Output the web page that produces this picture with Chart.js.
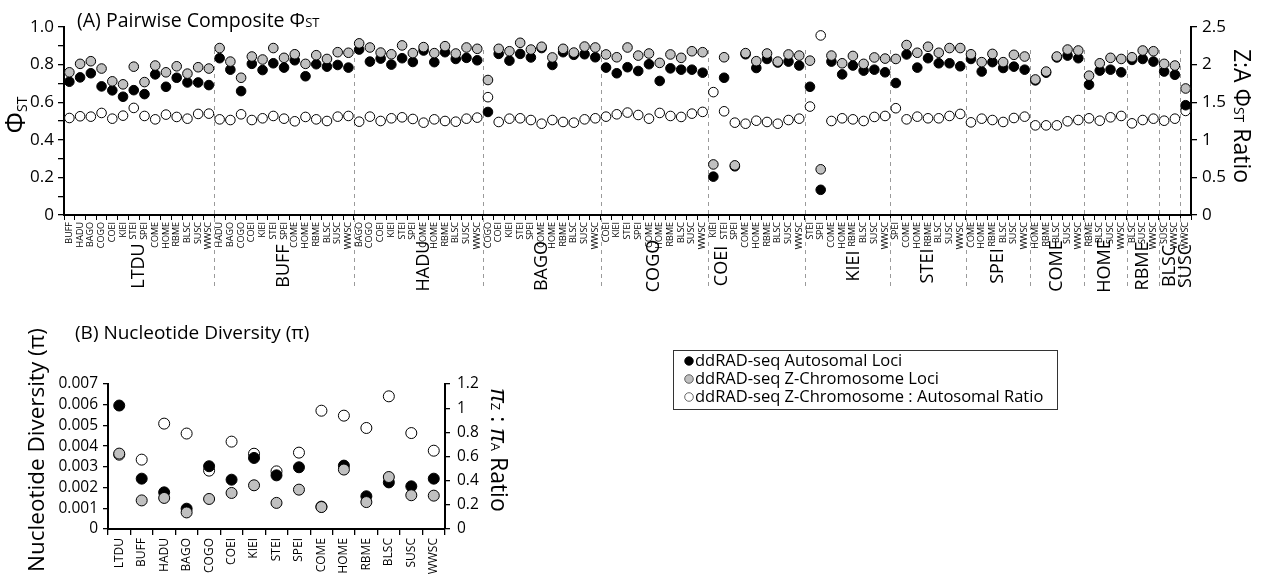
<!DOCTYPE html>
<html lang="en">
<head>
<meta charset="UTF-8">
<title>Pairwise Composite PhiST and Nucleotide Diversity</title>
<script src="https://cdn.jsdelivr.net/npm/chart.js"></script>
<style>
  body { margin: 0; background: #fff; }
  #wrap { position: relative; width: 1261px; height: 579px; }
  canvas { position: absolute; left: 0; }
  #topChart { top: 0; }
  #bottomChart { top: 300px; }
</style>
</head>
<body>
<div id="wrap">
  <canvas id="topChart" width="1261" height="300"></canvas>
  <canvas id="bottomChart" width="1261" height="279"></canvas>
</div>
<script>
const populations = ['LTDU', 'BUFF', 'HADU', 'BAGO', 'COGO', 'COEI', 'KIEI', 'STEI', 'SPEI', 'COME', 'HOME', 'RBME', 'BLSC', 'SUSC', 'WWSC'];

// pairwise values, one row per first population (LTDU vs BUFF..WWSC, BUFF vs HADU..WWSC, ...)
const phiAutosomal = [
  0.709, 0.732, 0.754, 0.684, 0.663, 0.629, 0.664, 0.643, 0.748, 0.682, 0.730, 0.705, 0.705, 0.691,
  0.834, 0.773, 0.659, 0.804, 0.771, 0.807, 0.784, 0.823, 0.738, 0.802, 0.789, 0.798, 0.784,
  0.880, 0.816, 0.832, 0.800, 0.834, 0.814, 0.875, 0.813, 0.866, 0.830, 0.836, 0.823,
  0.548, 0.857, 0.821, 0.857, 0.838, 0.888, 0.798, 0.866, 0.852, 0.855, 0.839,
  0.784, 0.754, 0.786, 0.766, 0.802, 0.713, 0.780, 0.773, 0.773, 0.757,
  0.204, 0.730, 0.259, 0.855, 0.782, 0.830, 0.811, 0.816, 0.795,
  0.682, 0.134, 0.816, 0.748, 0.795, 0.768, 0.773, 0.759,
  0.702, 0.854, 0.784, 0.834, 0.807, 0.807, 0.791,
  0.830, 0.763, 0.813, 0.782, 0.789, 0.773,
  0.716, 0.757, 0.838, 0.848, 0.834,
  0.693, 0.768, 0.773, 0.759,
  0.825, 0.830, 0.816,
  0.763, 0.746,
  0.584
];
const phiZChrom = [
  0.759, 0.804, 0.818, 0.779, 0.711, 0.695, 0.789, 0.707, 0.795, 0.759, 0.791, 0.752, 0.786, 0.779,
  0.888, 0.816, 0.730, 0.843, 0.827, 0.888, 0.836, 0.855, 0.804, 0.850, 0.830, 0.866, 0.863,
  0.913, 0.891, 0.864, 0.855, 0.902, 0.861, 0.893, 0.861, 0.898, 0.859, 0.891, 0.884,
  0.718, 0.884, 0.871, 0.916, 0.880, 0.895, 0.838, 0.884, 0.864, 0.896, 0.891,
  0.854, 0.839, 0.891, 0.848, 0.859, 0.809, 0.854, 0.836, 0.871, 0.866,
  0.269, 0.839, 0.264, 0.861, 0.818, 0.859, 0.816, 0.854, 0.848,
  0.821, 0.243, 0.848, 0.807, 0.846, 0.804, 0.838, 0.832,
  0.830, 0.904, 0.863, 0.895, 0.863, 0.888, 0.888,
  0.855, 0.813, 0.857, 0.813, 0.852, 0.843,
  0.721, 0.763, 0.843, 0.880, 0.875,
  0.741, 0.807, 0.836, 0.830,
  0.839, 0.875, 0.871,
  0.804, 0.795,
  0.673
];
const phiRatio = [
  1.290, 1.313, 1.308, 1.357, 1.281, 1.321, 1.424, 1.317, 1.272, 1.335, 1.304, 1.281, 1.344, 1.348,
  1.272, 1.263, 1.339, 1.263, 1.286, 1.317, 1.281, 1.246, 1.304, 1.272, 1.250, 1.308, 1.317,
  1.241, 1.308, 1.250, 1.286, 1.299, 1.277, 1.228, 1.272, 1.250, 1.241, 1.281, 1.295,
  1.567, 1.237, 1.281, 1.286, 1.263, 1.214, 1.263, 1.237, 1.228, 1.272, 1.286,
  1.308, 1.339, 1.362, 1.330, 1.281, 1.357, 1.317, 1.304, 1.348, 1.371,
  1.634, 1.379, 1.228, 1.214, 1.254, 1.237, 1.214, 1.263, 1.281,
  1.442, 2.388, 1.250, 1.286, 1.272, 1.250, 1.304, 1.317,
  1.420, 1.272, 1.308, 1.286, 1.286, 1.317, 1.344,
  1.232, 1.281, 1.263, 1.237, 1.290, 1.308,
  1.192, 1.192, 1.192, 1.246, 1.263,
  1.286, 1.254, 1.299, 1.317,
  1.219, 1.263, 1.281,
  1.254, 1.281,
  1.384
];

// nucleotide diversity per population
const piAutosomal = [0.00596, 0.00243, 0.00177, 0.00098, 0.00303, 0.00238, 0.00343, 0.00259, 0.00298, 0.00108, 0.00306, 0.00158, 0.00225, 0.00206, 0.00243];
const piZChrom = [0.00364, 0.00138, 0.00150, 0.00080, 0.00145, 0.00174, 0.00211, 0.00126, 0.00190, 0.00106, 0.00287, 0.00130, 0.00251, 0.00163, 0.00161];
const piRatio = [0.615, 0.574, 0.872, 0.790, 0.483, 0.723, 0.623, 0.477, 0.632, 0.979, 0.938, 0.836, 1.098, 0.794, 0.648];

const legendLabels = ['ddRAD-seq Autosomal Loci', 'ddRAD-seq Z-Chromosome Loci', 'ddRAD-seq Z-Chromosome : Autosomal Ratio'];

const FONT = '"Open Sans", Lato, sans-serif';
const GRAY = '#c0c0c0';

// group names in the figure are not all centred on their block
const groupNameShift = { HADU: 6, COEI: -34, KIEI: 6 };

// pair labels and group ranges built from the population list
const pairLabels = [];
const groups = [];
populations.forEach((p, i) => {
  if (i === populations.length - 1) return;
  const start = pairLabels.length;
  for (let j = i + 1; j < populations.length; j++) pairLabels.push(populations[j]);
  groups.push({ name: p, start: start, end: pairLabels.length - 1 });
});

// draw a line of text made of several font pieces, optionally rotated
function richText(ctx, x, y, angle, parts) {
  ctx.save();
  ctx.translate(x, y);
  ctx.rotate(angle);
  ctx.textAlign = 'left';
  ctx.textBaseline = 'alphabetic';
  ctx.fillStyle = '#000';
  let total = 0;
  parts.forEach(p => {
    ctx.font = (p.style || '') + ' ' + p.size + 'px ' + FONT;
    p.w = ctx.measureText(p.t).width;
    total += p.w;
  });
  let cx = angle === 0 ? 0 : -total / 2;
  parts.forEach(p => {
    ctx.font = (p.style || '') + ' ' + p.size + 'px ' + FONT;
    ctx.fillText(p.t, cx, p.dy || 0);
    cx += p.w;
  });
  ctx.restore();
}

function fitAxis(size, vertical) {
  return function (s) {
    if (vertical) { s.width = size; s.paddingTop = 0; s.paddingBottom = 0; }
    else { s.height = size; s.paddingLeft = 0; s.paddingRight = 0; }
  };
}

const pointStyle = {
  showLine: false,
  pointRadius: 4.8,
  pointHoverRadius: 4.8,
  pointBorderColor: '#000',
  pointBorderWidth: 1,
  clip: false
};

const axisGrid = { drawOnChartArea: false, color: '#000', tickLength: 6, lineWidth: 1.3 };
const axisBorder = { color: '#000', width: 2 };

// ---------- (A) pairwise composite PhiST ----------
const topDecor = {
  id: 'topDecor',
  beforeDatasetsDraw(chart) {
    const ctx = chart.ctx;
    const x = chart.scales.x;
    const half = (x.getPixelForValue(1) - x.getPixelForValue(0)) / 2;
    ctx.save();
    ctx.strokeStyle = '#9a9a9a';
    ctx.lineWidth = 1;
    ctx.setLineDash([4, 4]);
    groups.forEach(g => {
      if (g.start === 0) return;
      const px = Math.round(x.getPixelForValue(g.start) - half) + 0.5;
      ctx.beginPath();
      ctx.moveTo(px, 50);
      ctx.lineTo(px, 290);
      ctx.stroke();
    });
    ctx.restore();
  },
  afterDraw(chart) {
    const ctx = chart.ctx;
    const x = chart.scales.x;
    // group names under the pair labels
    ctx.save();
    ctx.fillStyle = '#000';
    ctx.font = '18px ' + FONT;
    ctx.textAlign = 'center';
    ctx.textBaseline = 'middle';
    groups.forEach(g => {
      const cx = (x.getPixelForValue(g.start) + x.getPixelForValue(g.end)) / 2 + (groupNameShift[g.name] || 0);
      ctx.save();
      ctx.translate(cx, 266);
      ctx.rotate(-Math.PI / 2);
      ctx.fillText(g.name, 0, 0);
      ctx.restore();
    });
    ctx.restore();
    richText(ctx, 77, 27, 0, [
      { t: '(A) Pairwise Composite \u03A6', size: 19.5 },
      { t: 'ST', size: 13 }
    ]);
    richText(ctx, 25, 115, -Math.PI / 2, [
      { t: '\u03A6', size: 27 },
      { t: 'ST', size: 14, dy: 2 }
    ]);
    richText(ctx, 1234, 116, Math.PI / 2, [
      { t: 'Z:A \u03A6', size: 23 },
      { t: 'ST', size: 14 },
      { t: ' Ratio', size: 23 }
    ]);
  }
};

new Chart(document.getElementById('topChart'), {
  type: 'line',
  data: {
    labels: pairLabels,
    datasets: [
      Object.assign({ label: 'Z-Chromosome', data: phiZChrom, yAxisID: 'y', pointBackgroundColor: GRAY }, pointStyle),
      Object.assign({ label: 'Autosomal', data: phiAutosomal, yAxisID: 'y', pointBackgroundColor: '#000' }, pointStyle),
      Object.assign({ label: 'Z:A Ratio', data: phiRatio, yAxisID: 'y2', pointBackgroundColor: '#fff' }, pointStyle)
    ]
  },
  options: {
    responsive: false,
    animation: false,
    events: [],
    layout: { padding: { top: 27, left: 0, right: 0, bottom: 0 } },
    plugins: { legend: { display: false }, tooltip: { enabled: false } },
    scales: {
      x: {
        type: 'category',
        offset: true,
        grid: { offset: true, drawOnChartArea: false, color: '#000', tickLength: 5, lineWidth: 1 },
        border: axisBorder,
        ticks: { autoSkip: false, minRotation: 90, maxRotation: 90, padding: 2, color: '#000', font: { family: FONT, size: 9 } },
        afterFit: fitAxis(85, false)
      },
      y: {
        position: 'left',
        min: 0, max: 1,
        grid: axisGrid,
        border: axisBorder,
        ticks: {
          stepSize: 0.1, autoSkip: false, padding: 4, color: '#000', font: { family: FONT, size: 17 },
          callback: v => {
            const k = Math.round(v * 10);
            if (k % 2) return '';
            return k === 0 ? '0' : (k / 10).toFixed(1);
          }
        },
        afterFit: fitAxis(64, true)
      },
      y2: {
        position: 'right',
        min: 0, max: 2.5,
        grid: axisGrid,
        border: axisBorder,
        ticks: {
          stepSize: 0.5, autoSkip: false, padding: 5, color: '#000', font: { family: FONT, size: 17 },
          callback: v => String(Math.round(v * 10) / 10)
        },
        afterFit: fitAxis(70, true)
      }
    }
  },
  plugins: [topDecor]
});

// ---------- (B) nucleotide diversity ----------
const bottomDecor = {
  id: 'bottomDecor',
  afterDraw(chart) {
    const ctx = chart.ctx;
    richText(ctx, 75, 39, 0, [{ t: '(B) Nucleotide Diversity (\u03C0)', size: 19 }]);
    richText(ctx, 44, 150, -Math.PI / 2, [{ t: 'Nucleotide Diversity (\u03C0)', size: 22.5 }]);
    richText(ctx, 491, 150, Math.PI / 2, [
      { t: '\u03C0', size: 24, style: 'italic' },
      { t: 'Z', size: 13 },
      { t: ' : ', size: 23 },
      { t: '\u03C0', size: 24, style: 'italic' },
      { t: 'A', size: 13 },
      { t: ' Ratio', size: 23 }
    ]);

    // legend box
    ctx.save();
    ctx.strokeStyle = '#333';
    ctx.lineWidth = 1;
    ctx.strokeRect(673.5, 50.5, 384, 59);
    const fills = ['#000', GRAY, '#fff'];
    ctx.font = '16.5px ' + FONT;
    ctx.textBaseline = 'middle';
    ctx.textAlign = 'left';
    legendLabels.forEach((lab, i) => {
      const cy = 61 + i * 18;
      ctx.beginPath();
      ctx.arc(689, cy, 4.3, 0, Math.PI * 2);
      ctx.fillStyle = fills[i];
      ctx.fill();
      ctx.strokeStyle = i === 0 ? '#000' : '#444';
      ctx.lineWidth = 0.8;
      ctx.stroke();
      ctx.fillStyle = '#000';
      ctx.fillText(lab, 695, cy);
    });
    ctx.restore();
  }
};

const piPoint = Object.assign({}, pointStyle, { pointRadius: 5.5, pointHoverRadius: 5.5 });

new Chart(document.getElementById('bottomChart'), {
  type: 'line',
  data: {
    labels: populations,
    datasets: [
      Object.assign({ label: 'Z-Chromosome', data: piZChrom, yAxisID: 'y', pointBackgroundColor: GRAY }, piPoint),
      Object.assign({ label: 'Autosomal', data: piAutosomal, yAxisID: 'y', pointBackgroundColor: '#000' }, piPoint),
      Object.assign({ label: 'Z:A Ratio', data: piRatio, yAxisID: 'y2', pointBackgroundColor: '#fff' }, piPoint)
    ]
  },
  options: {
    responsive: false,
    animation: false,
    events: [],
    layout: { padding: { top: 84, left: 0, right: 756, bottom: 0 } },
    plugins: { legend: { display: false }, tooltip: { enabled: false } },
    scales: {
      x: {
        type: 'category',
        offset: true,
        grid: { offset: true, drawOnChartArea: false, color: '#000', tickLength: 6, lineWidth: 1.3 },
        border: axisBorder,
        ticks: { autoSkip: false, minRotation: 90, maxRotation: 90, padding: 3, color: '#000', font: { family: FONT, size: 12 } },
        afterFit: fitAxis(50, false)
      },
      y: {
        position: 'left',
        min: 0, max: 0.007,
        grid: { drawOnChartArea: false, color: '#000', tickLength: 5, lineWidth: 1.3 },
        border: axisBorder,
        ticks: {
          stepSize: 0.001, autoSkip: false, padding: 5, color: '#000', font: { family: FONT, size: 15.5 },
          callback: v => (Math.abs(v) < 1e-9 ? '0' : v.toFixed(3))
        },
        afterFit: fitAxis(108, true)
      },
      y2: {
        position: 'right',
        min: 0, max: 1.2,
        grid: { drawOnChartArea: false, color: '#000', tickLength: 5, lineWidth: 1.3 },
        border: axisBorder,
        ticks: {
          stepSize: 0.2, autoSkip: false, padding: 7, color: '#000', font: { family: FONT, size: 15.5 },
          callback: v => String(Math.round(v * 10) / 10)
        },
        afterFit: fitAxis(60, true)
      }
    }
  },
  plugins: [bottomDecor]
});
</script>
</body>
</html>
